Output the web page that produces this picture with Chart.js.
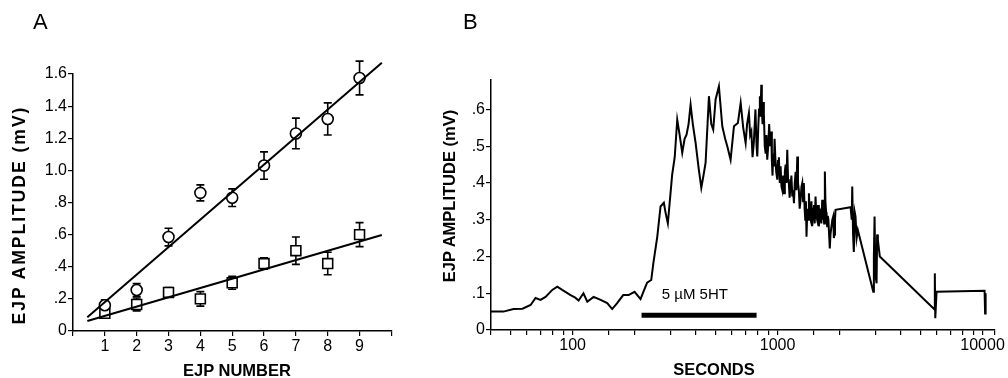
<!DOCTYPE html>
<html>
<head>
<meta charset="utf-8">
<script src="https://cdn.jsdelivr.net/npm/chart.js@4"></script>
<style>
  body { margin: 0; background: #fff; }
  #page { position: relative; width: 1008px; height: 378px; overflow: hidden; font-family: "Liberation Sans", Arial, sans-serif; color: #000; }
  canvas { position: absolute; top: 0; }
  #chartA { left: 0; }
  #chartB { left: 420px; }
  .txt { position: absolute; white-space: nowrap; line-height: 1; }
  .panel { font-size: 22px; }
  .title { font-weight: bold; font-size: 16.5px; transform: translate(-50%, -50%); }
  .vtitle { font-weight: bold; font-size: 16.5px; transform: translate(-50%, -50%) rotate(-90deg); }
  .wide { font-size: 17.5px; letter-spacing: 2px; }
</style>
</head>
<body>
<div id="page">
  <canvas id="chartA" width="400" height="378"></canvas>
  <canvas id="chartB" width="588" height="378"></canvas>
  <div class="txt panel" style="left:33px; top:11px;">A</div>
  <div class="txt panel" style="left:463px; top:11px;">B</div>
  <div class="txt vtitle wide" style="left:20px; top:215px;">EJP AMPLITUDE (mV)</div>
  <div class="txt title" style="left:237px; top:370px;">EJP NUMBER</div>
  <div class="txt vtitle" style="left:449px; top:196px;">EJP AMPLITUDE (mV)</div>
  <div class="txt title" style="left:714px; top:369px;">SECONDS</div>
</div>
<script>
// ---- panel A: EJP amplitude vs EJP number ----
const ejpNumber = [1, 2, 3, 4, 5, 6, 7, 8, 9];
const circleAmp = [0.16, 0.255, 0.585, 0.86, 0.83, 1.03, 1.23, 1.32, 1.575];
const circleErr = [0.035, 0.04, 0.055, 0.05, 0.055, 0.085, 0.095, 0.10, 0.105];
const squareAmp = [0.11, 0.165, 0.24, 0.20, 0.30, 0.42, 0.50, 0.42, 0.60];
const squareErr = [0.02, 0.04, 0.03, 0.045, 0.04, 0.035, 0.085, 0.07, 0.075];
// fitted lines, read at their two ends
const fitX = [0.45, 9.7];
const circleFit = [0.085, 1.67];
const squareFit = [0.062, 0.598];
const yTicksA = ['0', '.2', '.4', '.6', '.8', '1.0', '1.2', '1.4', '1.6'];

// ---- panel B: EJP amplitude vs time (log), [seconds, mV] ----
const baselineTrace = [
  [40, 0.050], [46, 0.050], [51.5, 0.057], [57, 0.058], [62.4, 0.068], [66, 0.087], [69.8, 0.082],
  [73.8, 0.090], [79.6, 0.109], [84.2, 0.118], [89, 0.109], [97.8, 0.095], [103, 0.088], [107, 0.080],
  [113, 0.100], [118, 0.077], [126.6, 0.090], [137, 0.082], [147.6, 0.073], [156, 0.057], [165, 0.073],
  [176.6, 0.095], [187.6, 0.095], [200.6, 0.104], [214.6, 0.084], [222, 0.105]
];
const riseTrace = [
  [231, 0.129], [242, 0.136], [248, 0.183], [259, 0.254], [268.6, 0.336], [278.8, 0.346], [284, 0.320],
  [291.6, 0.290], [306, 0.422], [315, 0.470], [324, 0.572]
];
const plateauTrace = [
  [333, 0.530], [342.8, 0.482], [352, 0.520], [359.7, 0.531], [368, 0.560], [376.5, 0.613], [386, 0.560],
  [398, 0.510], [412, 0.440], [424.6, 0.387], [435, 0.420], [445.6, 0.455], [462.6, 0.636], [475, 0.560],
  [485.5, 0.545], [498.5, 0.627], [517.4, 0.663], [537.5, 0.554], [555, 0.520], [568.5, 0.500],
  [590, 0.463], [612.7, 0.554], [640.3, 0.563], [660.7, 0.618], [680, 0.550], [698.6, 0.509],
  [710, 0.560], [724.8, 0.590], [735, 0.530], [745, 0.540], [755, 0.470], [766, 0.510], [780, 0.600],
  [790, 0.500], [796.5, 0.472], [805, 0.550], [812, 0.600], [819.8, 0.636], [826, 0.580], [832.7, 0.667],
  [838, 0.600], [845, 0.560], [851, 0.620], [857.2, 0.590], [866, 0.500], [875, 0.480], [882, 0.530],
  [890.5, 0.463], [900, 0.500], [910, 0.560], [920, 0.500], [931.5, 0.540]
];
const decayTrace = [
  [938, 0.460], [945, 0.420], [952, 0.480], [959.5, 0.445], [967, 0.520], [975, 0.470], [985, 0.430],
  [996.8, 0.409], [1005, 0.460], [1015, 0.470], [1025, 0.400], [1035, 0.445], [1045, 0.390], [1055, 0.380],
  [1065, 0.420], [1075, 0.372], [1085, 0.430], [1095, 0.450], [1105, 0.400], [1115, 0.490], [1125, 0.410],
  [1135, 0.400], [1145, 0.360], [1157, 0.390], [1168, 0.420], [1180, 0.363], [1190, 0.380], [1202, 0.345],
  [1213, 0.400], [1225, 0.430], [1236, 0.380], [1248, 0.472], [1258, 0.400], [1270, 0.380], [1282, 0.330],
  [1295, 0.354], [1308, 0.390], [1320, 0.400], [1332, 0.350], [1343, 0.400], [1355, 0.330], [1365, 0.300],
  [1375, 0.350], [1384, 0.254], [1392, 0.300], [1400, 0.330], [1411, 0.300], [1422, 0.372], [1436, 0.310],
  [1450, 0.300], [1463, 0.350], [1476, 0.282], [1490, 0.330], [1505, 0.340], [1518, 0.290], [1532, 0.363],
  [1546, 0.310], [1560, 0.300], [1575, 0.340], [1590, 0.282], [1605, 0.310], [1620, 0.330], [1636, 0.290],
  [1651, 0.354], [1663, 0.300], [1675, 0.320], [1688, 0.290], [1701, 0.431], [1712, 0.350], [1725, 0.320],
  [1735, 0.300], [1746, 0.282], [1758, 0.310], [1770, 0.300], [1784, 0.260], [1798, 0.222], [1812, 0.260],
  [1830, 0.280], [1850, 0.300], [1869, 0.309], [1882, 0.250], [1895, 0.260], [1906, 0.300], [1918, 0.327]
];
const tailTrace = [
  [2271, 0.334], [2300, 0.300], [2314, 0.390], [2335, 0.260], [2355, 0.212], [2380, 0.320], [2400, 0.309],
  [2430, 0.250], [2464, 0.272], [2930, 0.104], [2950, 0.200], [2973, 0.309], [3000, 0.150], [3041, 0.127],
  [3060, 0.260], [3085, 0.245], [3153, 0.200], [5833, 0.056], [5850, 0.154], [5880, 0.032], [5966, 0.104],
  [10230, 0.107], [10290, 0.045], [10350, 0.100]
];
// bar marking the 5 µM 5HT application
const drugSeconds = [217, 790];
const drugLevel = [0.04, 0.04];
const drugLabel = '5 µM 5HT';
const xMajorTicksB = [100, 1000, 10000];
const yTicksB = ['0', '.1', '.2', '.3', '.4', '.5', '.6'];

const FONT = '"Liberation Sans", Arial, sans-serif';

function pairs(xs, ys) {
  return xs.map((x, i) => ({ x: x, y: ys[i] }));
}

const errorBars = {
  id: 'errorBars',
  beforeDatasetsDraw(chart) {
    const ctx = chart.ctx;
    const xs = chart.scales.x;
    const ys = chart.scales.y;
    chart.data.datasets.forEach(ds => {
      if (!ds.errors) return;
      ctx.save();
      ctx.strokeStyle = '#000';
      ctx.lineWidth = 1.6;
      ds.data.forEach((p, i) => {
        const x = xs.getPixelForValue(p.x);
        const top = ys.getPixelForValue(p.y + ds.errors[i]);
        const bot = ys.getPixelForValue(p.y - ds.errors[i]);
        ctx.beginPath();
        ctx.moveTo(x, top); ctx.lineTo(x, bot);
        ctx.moveTo(x - 4, top); ctx.lineTo(x + 4, top);
        ctx.moveTo(x - 4, bot); ctx.lineTo(x + 4, bot);
        ctx.stroke();
      });
      ctx.restore();
    });
  }
};

const drugText = {
  id: 'drugText',
  afterDatasetsDraw(chart) {
    const ctx = chart.ctx;
    const x = chart.scales.x.getPixelForValue(395);
    const y = chart.scales.y.getPixelForValue(0.095);
    ctx.save();
    ctx.font = '15px ' + FONT;
    ctx.fillStyle = '#000';
    ctx.textAlign = 'center';
    ctx.textBaseline = 'middle';
    ctx.fillText(drugLabel, x, y);
    ctx.restore();
  }
};

function axisStyle() {
  return {
    border: { display: true, color: '#000', width: 1.5 },
    grid: { drawOnChartArea: false, drawTicks: true, tickLength: 5, color: '#000', lineWidth: 1.2 },
    ticks: { color: '#000', font: { family: FONT, size: 16 }, autoSkip: false, maxRotation: 0, padding: 1 }
  };
}

Chart.defaults.font.family = FONT;

new Chart(document.getElementById('chartA'), {
  type: 'scatter',
  data: {
    datasets: [
      { type: 'line', data: pairs(fitX, circleFit), borderColor: '#000', borderWidth: 2, pointRadius: 0, clip: false, order: 0 },
      { type: 'line', data: pairs(fitX, squareFit), borderColor: '#000', borderWidth: 2, pointRadius: 0, clip: false, order: 0 },
      { data: pairs(ejpNumber, circleAmp), errors: circleErr, pointStyle: 'circle', pointRadius: 5.5,
        borderColor: '#000', backgroundColor: '#fff', borderWidth: 1.6, clip: false, order: 1 },
      { data: pairs(ejpNumber, squareAmp), errors: squareErr, pointStyle: 'rect', pointRadius: 7,
        borderColor: '#000', backgroundColor: '#fff', borderWidth: 1.6, clip: false, order: 1 }
    ]
  },
  options: {
    responsive: false,
    animation: false,
    layout: { padding: { top: 74, right: 7, left: 0, bottom: 0 } },
    plugins: { legend: { display: false }, tooltip: { enabled: false } },
    scales: {
      x: Object.assign(axisStyle(), {
        type: 'linear', min: 0, max: 10,
        afterFit: s => { s.height = 47; },
        afterBuildTicks: s => { s.ticks = [0, 1, 2, 3, 4, 5, 6, 7, 8, 9, 10].map(v => ({ value: v })); }
      }),
      y: Object.assign(axisStyle(), {
        type: 'linear', min: 0, max: 1.6,
        afterFit: s => { s.width = 73; },
        afterBuildTicks: s => { s.ticks = yTicksA.map((t, i) => ({ value: i * 0.2 })); }
      })
    }
  },
  plugins: [errorBars]
});
// tick labels for A
const chartA = Chart.getChart('chartA');
chartA.options.scales.x.ticks.callback = v => (v >= 1 && v <= 9 ? String(v) : '');
chartA.options.scales.y.ticks.callback = (v, i) => yTicksA[i];
chartA.update();

const trace = baselineTrace.concat(riseTrace, plateauTrace, decayTrace, tailTrace);

new Chart(document.getElementById('chartB'), {
  type: 'scatter',
  data: {
    datasets: [
      { data: trace.map(p => ({ x: p[0], y: p[1] })), showLine: true, borderColor: '#000', borderWidth: 2,
        pointRadius: 0, tension: 0, clip: false },
      { data: pairs(drugSeconds, drugLevel), showLine: true, borderColor: '#000', borderWidth: 5,
        borderCapStyle: 'butt', pointRadius: 0 }
    ]
  },
  options: {
    responsive: false,
    animation: false,
    layout: { padding: { top: 80, right: 13, left: 0, bottom: 0 } },
    plugins: { legend: { display: false }, tooltip: { enabled: false } },
    scales: {
      x: Object.assign(axisStyle(), {
        type: 'logarithmic', min: 40, max: 11500,
        afterFit: s => { s.height = 48; }
      }),
      y: Object.assign(axisStyle(), {
        type: 'linear', min: 0, max: 0.68,
        afterFit: s => { s.width = 71; },
        afterBuildTicks: s => { s.ticks = yTicksB.map((t, i) => ({ value: i * 0.1 })); }
      })
    }
  },
  plugins: [drugText]
});
const chartB = Chart.getChart('chartB');
chartB.options.scales.x.ticks.callback = v => (xMajorTicksB.includes(v) ? String(v) : '');
chartB.options.scales.y.ticks.callback = (v, i) => yTicksB[i];
chartB.update();
</script>
</body>
</html>
